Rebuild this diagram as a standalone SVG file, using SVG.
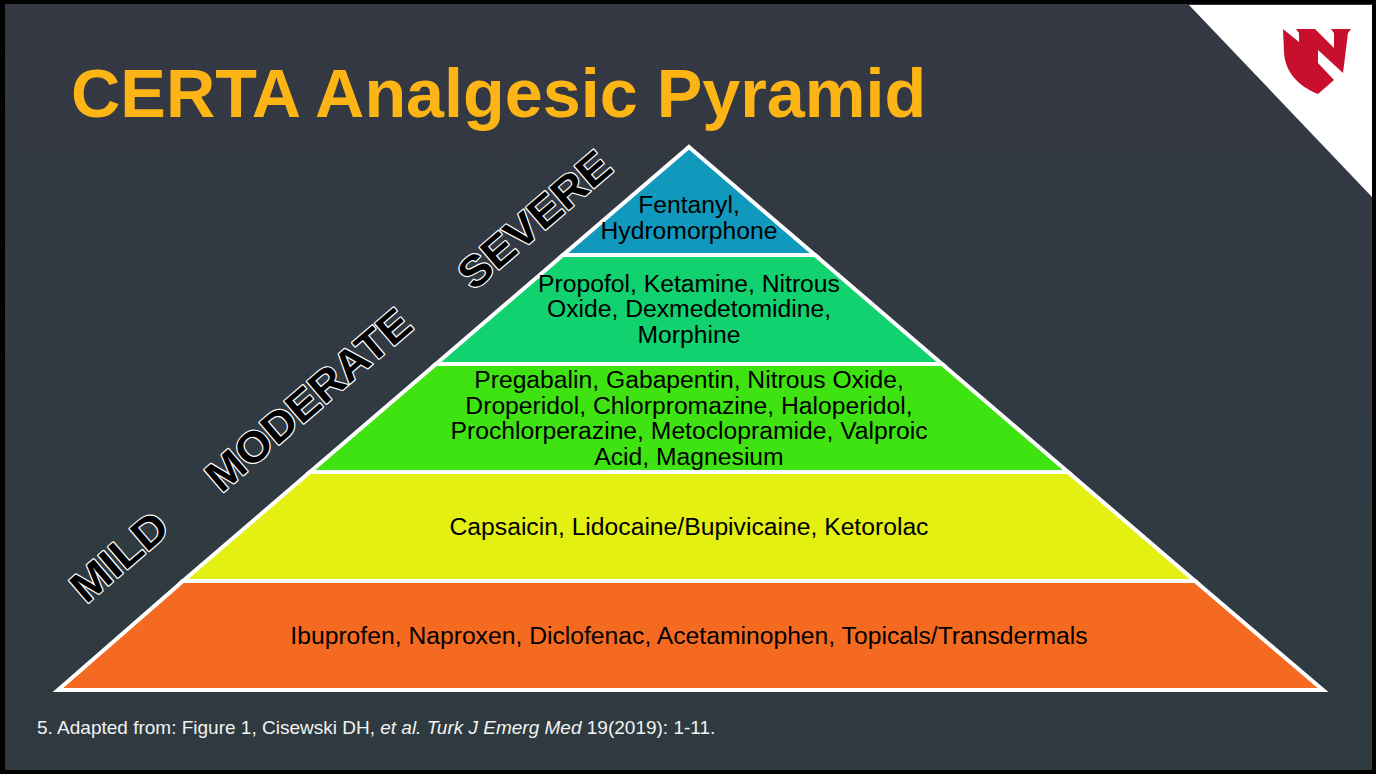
<svg xmlns="http://www.w3.org/2000/svg" width="1376" height="774" viewBox="0 0 1376 774">
<style>
.t{font-family:"Liberation Sans",Arial,sans-serif;font-size:24.7px;fill:#000;text-anchor:middle}
.r{font-family:"Liberation Sans",Arial,sans-serif;font-size:43px;font-weight:700;fill:#000;stroke:#fff;stroke-width:2.4px;paint-order:stroke;stroke-linejoin:round;text-anchor:middle}
.l{stroke:#fff;stroke-width:4;stroke-linejoin:miter}
</style>
<defs><linearGradient id="bg" x1="0" y1="0" x2="0" y2="1"><stop offset="0" stop-color="#343843"/><stop offset="0.5" stop-color="#313a42"/><stop offset="1" stop-color="#2f3a40"/></linearGradient></defs>
<rect width="1376" height="774" fill="#000"/>
<rect x="5" y="4" width="1367" height="766" fill="url(#bg)"/>
<g id="corner"><polygon points="1189,5 1372,5 1372,197" fill="#fff"/>
<path id="logo" d="M1283,29 L1299,42 L1299,33 L1296,29 L1315,29 L1334,48 L1334,33 L1331,29 L1351,29 L1348,33 L1343,73 L1318,50 L1318,63 L1334,80 L1318,94 C1298,86 1285,72 1284,52 Z" fill="#c8102e"/></g>
<text x="71" y="117" font-family="Liberation Sans,Arial,sans-serif" font-size="68.3px" font-weight="700" fill="#fdb515">CERTA Analgesic Pyramid</text>
<g id="tier5"><polygon class="l" points="689,147 815,255 563,255" fill="#1099bd"/>
<text class="t"><tspan x="689" y="213">Fentanyl,</tspan><tspan x="689" y="239">Hydromorphone</tspan></text></g>
<g id="tier4"><polygon class="l" points="563,255 815,255 942,364 436,364" fill="#12d16f"/>
<text class="t"><tspan x="689" y="292">Propofol, Ketamine, Nitrous</tspan><tspan x="689" y="317">Oxide, Dexmedetomidine,</tspan><tspan x="689" y="343">Morphine</tspan></text></g>
<g id="tier3"><polygon class="l" points="436,364 942,364 1068,472 310,472" fill="#3fe312"/>
<text class="t"><tspan x="689" y="388">Pregabalin, Gabapentin, Nitrous Oxide,</tspan><tspan x="689" y="414">Droperidol, Chlorpromazine, Haloperidol,</tspan><tspan x="689" y="439">Prochlorperazine, Metoclopramide, Valproic</tspan><tspan x="689" y="465">Acid, Magnesium</tspan></text></g>
<g id="tier2"><polygon class="l" points="310,472 1068,472 1195,581 183,581" fill="#e4f011"/>
<text class="t" x="689" y="535">Capsaicin, Lidocaine/Bupivicaine, Ketorolac</text></g>
<g id="tier1"><polygon class="l" points="183,581 1195,581 1323,690 58,690" fill="#f56a21"/>
<text class="t" x="689" y="644">Ibuprofen, Naproxen, Diclofenac, Acetaminophen, Topicals/Transdermals</text></g>
<text class="r" transform="translate(129,568) rotate(-40.6)" textLength="113" lengthAdjust="spacingAndGlyphs">MILD</text>
<text class="r" transform="translate(318,411) rotate(-40.6)" textLength="255" lengthAdjust="spacingAndGlyphs">MODERATE</text>
<text class="r" transform="translate(544,231) rotate(-40.6)" textLength="186" lengthAdjust="spacingAndGlyphs">SEVERE</text>
<text x="37" y="734" font-family="Liberation Sans,Arial,sans-serif" font-size="19px" fill="#f2f2f2">5. Adapted from: Figure 1, Cisewski DH, <tspan font-style="italic">et al. Turk J Emerg Med</tspan> 19(2019): 1-11.</text>
</svg>
